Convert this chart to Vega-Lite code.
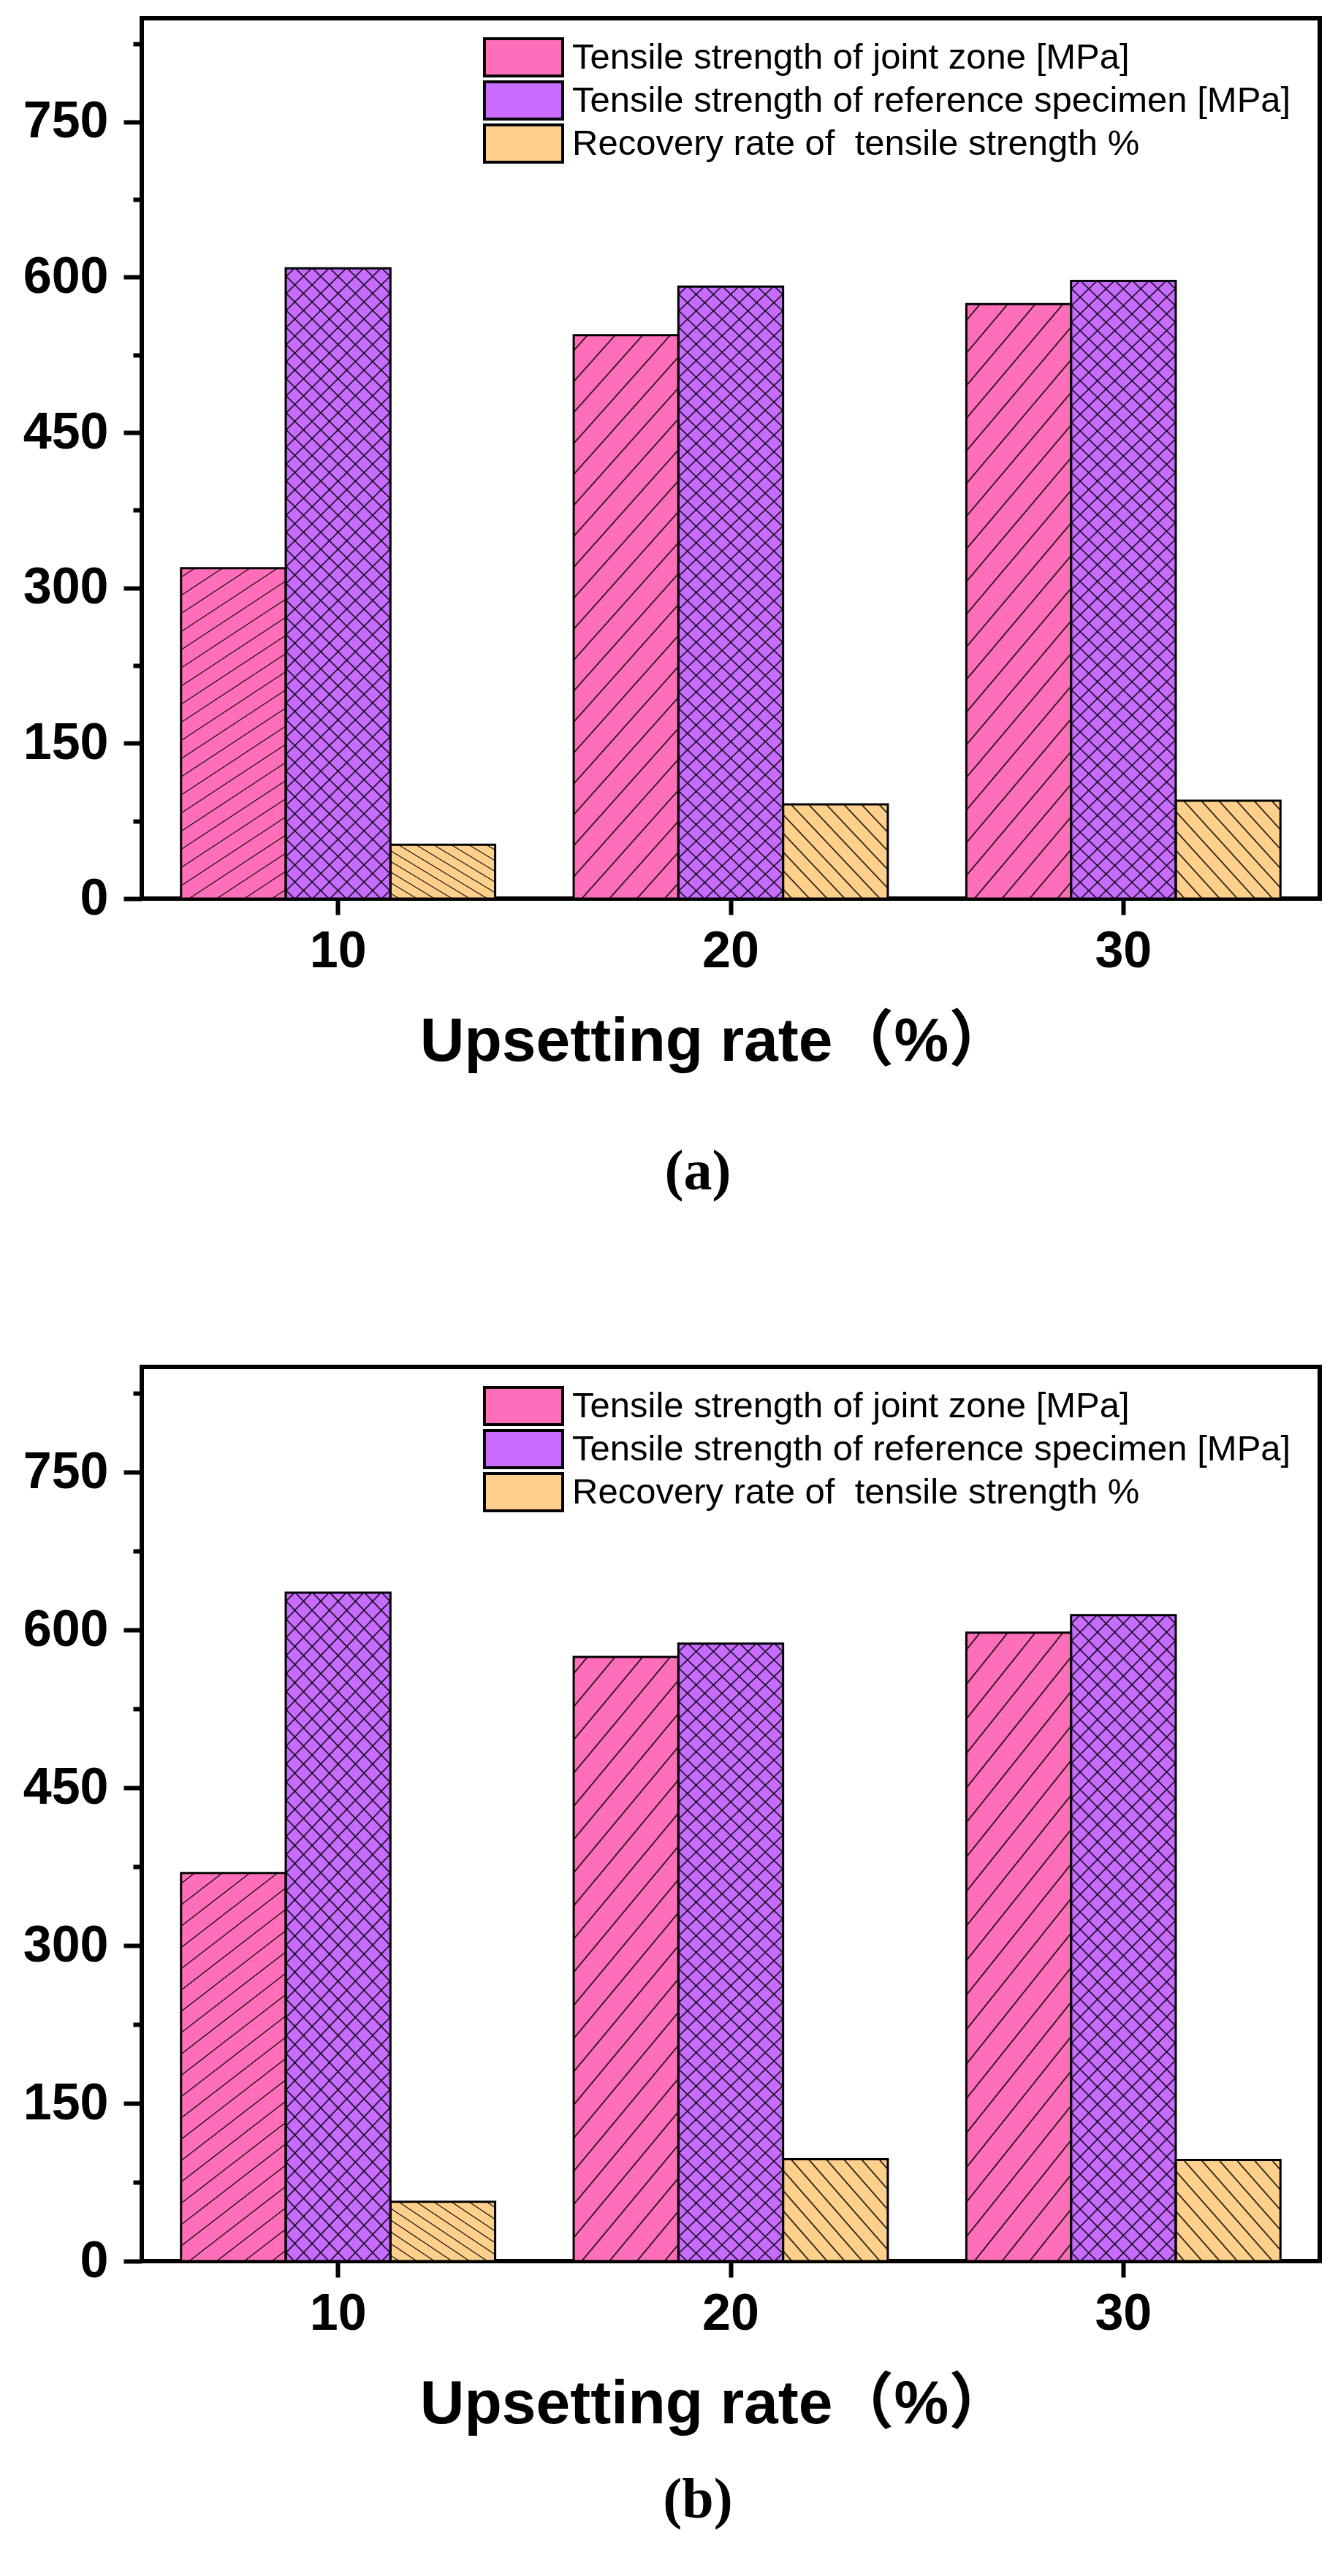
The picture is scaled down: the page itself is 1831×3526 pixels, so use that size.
{
  "$schema": "https://vega.github.io/schema/vega-lite/v6.json",
  "background": "white",
  "padding": {"left": 28, "top": 22, "right": 0, "bottom": 0},
  "autosize": {"type": "pad"},
  "spacing": 221,
  "config": {
    "view": {"stroke": "black", "strokeWidth": 6},
    "font": "Liberation Sans",
    "axis": {"labelColor": "black", "titleColor": "black", "tickColor": "black"},
    "title": {"color": "black"}
  },
  "datasets": {
    "a": [
      {"rate": "10", "series": "Tensile strength of joint zone [MPa]", "value": 319},
      {"rate": "10", "series": "Tensile strength of reference specimen [MPa]", "value": 608.6},
      {"rate": "10", "series": "Recovery rate of  tensile strength %", "value": 52},
      {"rate": "20", "series": "Tensile strength of joint zone [MPa]", "value": 544},
      {"rate": "20", "series": "Tensile strength of reference specimen [MPa]", "value": 591},
      {"rate": "20", "series": "Recovery rate of  tensile strength %", "value": 91},
      {"rate": "30", "series": "Tensile strength of joint zone [MPa]", "value": 574},
      {"rate": "30", "series": "Tensile strength of reference specimen [MPa]", "value": 596.4},
      {"rate": "30", "series": "Recovery rate of  tensile strength %", "value": 94.6}
    ],
    "b": [
      {"rate": "10", "series": "Tensile strength of joint zone [MPa]", "value": 369},
      {"rate": "10", "series": "Tensile strength of reference specimen [MPa]", "value": 635.4},
      {"rate": "10", "series": "Recovery rate of  tensile strength %", "value": 56.5},
      {"rate": "20", "series": "Tensile strength of joint zone [MPa]", "value": 574.3},
      {"rate": "20", "series": "Tensile strength of reference specimen [MPa]", "value": 587},
      {"rate": "20", "series": "Recovery rate of  tensile strength %", "value": 96.8},
      {"rate": "30", "series": "Tensile strength of joint zone [MPa]", "value": 597.4},
      {"rate": "30", "series": "Tensile strength of reference specimen [MPa]", "value": 614},
      {"rate": "30", "series": "Recovery rate of  tensile strength %", "value": 96.2}
    ]
  },
  "vconcat": [
    {
      "width": 1612,
      "height": 1205,
      "view": {"stroke": "black", "strokeWidth": 6},
      "data": {"name": "a"},
      "title": {"text": "(a)", "orient": "bottom", "frame": "group", "anchor": "middle", "dx": -45, "offset": 98, "font": "Liberation Serif", "fontSize": 78, "fontWeight": "bold", "color": "black"},
      "encoding": {
        "x": {
          "field": "rate", "type": "nominal", "sort": ["10", "20", "30"],
          "scale": {"paddingInner": 0.2, "paddingOuter": 0.1},
          "title": "Upsetting rate（%）",
          "axis": {"labelAngle": 0, "labelFontSize": 70, "labelFontWeight": "bold", "labelBaseline": "alphabetic", "labelPadding": 71, "tickSize": 22, "tickWidth": 6, "domain": false, "titleFont": "Liberation Sans, Noto Sans CJK SC", "titleFontSize": 84, "titleFontWeight": "bold", "titleX": 784, "titleY": 221, "titleBaseline": "alphabetic", "titleAnchor": "middle"}
        },
        "xOffset": {"field": "series", "type": "nominal", "sort": ["Tensile strength of joint zone [MPa]", "Tensile strength of reference specimen [MPa]", "Recovery rate of  tensile strength %"]},
        "y": {
          "field": "value", "type": "quantitative",
          "scale": {"domain": [0, 850], "nice": false, "zero": true},
          "title": null,
          "axis": {"values": [0, 75, 150, 225, 300, 375, 450, 525, 600, 675, 750, 825], "labelExpr": "datum.value % 150 === 0 ? datum.label : ''", "labelOverlap": false, "labelFontSize": 70, "labelFontWeight": "bold", "labelPadding": 21, "tickSize": {"condition": {"test": "datum.value % 150 === 0", "value": 25}, "value": 12}, "tickWidth": 6, "domain": false, "grid": false}
        }
      },
      "layer": [
        {
          "mark": {"type": "bar", "strokeWidth": 0},
          "encoding": {
            "fill": {
              "field": "series", "type": "nominal",
              "scale": {"domain": ["Tensile strength of joint zone [MPa]", "Tensile strength of reference specimen [MPa]", "Recovery rate of  tensile strength %"], "range": ["#FF6EB9", "#C86BFF", "#FFD08C"]},
              "legend": {"title": null, "orient": "none", "legendX": 498, "legendY": 29, "padding": 0, "symbolType": "M-4,-1.908H4V1.908H-4Z", "symbolSize": 715.6, "symbolStrokeColor": "black", "symbolStrokeWidth": 4, "symbolOpacity": 1, "labelFontSize": 49, "labelColor": "black", "labelOffset": 42, "labelLimit": 0, "rowPadding": -12, "labelExpr": "replace(datum.label, 'of  t', 'of \u00a0t')"}
            }
          }
        },
        {
          "mark": {"type": "bar", "strokeWidth": 0},
          "encoding": {
            "fill": {
              "condition": [
                {"test": "datum.series === 'Tensile strength of joint zone [MPa]'", "value": {"gradient": "linear", "x1": 0, "y1": 0, "x2": 0.2413, "y2": 1.158, "stops": [
                  {"offset": 0.0203, "color": "transparent"}, {"offset": 0.0227, "color": "black"}, {"offset": 0.0251, "color": "transparent"},
                  {"offset": 0.0658, "color": "transparent"}, {"offset": 0.0682, "color": "black"}, {"offset": 0.0706, "color": "transparent"},
                  {"offset": 0.1112, "color": "transparent"}, {"offset": 0.1136, "color": "black"}, {"offset": 0.1160, "color": "transparent"},
                  {"offset": 0.1567, "color": "transparent"}, {"offset": 0.1591, "color": "black"}, {"offset": 0.1615, "color": "transparent"},
                  {"offset": 0.2021, "color": "transparent"}, {"offset": 0.2045, "color": "black"}, {"offset": 0.2069, "color": "transparent"},
                  {"offset": 0.2476, "color": "transparent"}, {"offset": 0.2500, "color": "black"}, {"offset": 0.2524, "color": "transparent"},
                  {"offset": 0.2931, "color": "transparent"}, {"offset": 0.2955, "color": "black"}, {"offset": 0.2979, "color": "transparent"},
                  {"offset": 0.3385, "color": "transparent"}, {"offset": 0.3409, "color": "black"}, {"offset": 0.3433, "color": "transparent"},
                  {"offset": 0.3840, "color": "transparent"}, {"offset": 0.3864, "color": "black"}, {"offset": 0.3888, "color": "transparent"},
                  {"offset": 0.4294, "color": "transparent"}, {"offset": 0.4318, "color": "black"}, {"offset": 0.4342, "color": "transparent"},
                  {"offset": 0.4749, "color": "transparent"}, {"offset": 0.4773, "color": "black"}, {"offset": 0.4797, "color": "transparent"},
                  {"offset": 0.5203, "color": "transparent"}, {"offset": 0.5227, "color": "black"}, {"offset": 0.5251, "color": "transparent"},
                  {"offset": 0.5658, "color": "transparent"}, {"offset": 0.5682, "color": "black"}, {"offset": 0.5706, "color": "transparent"},
                  {"offset": 0.6112, "color": "transparent"}, {"offset": 0.6136, "color": "black"}, {"offset": 0.6160, "color": "transparent"},
                  {"offset": 0.6567, "color": "transparent"}, {"offset": 0.6591, "color": "black"}, {"offset": 0.6615, "color": "transparent"},
                  {"offset": 0.7021, "color": "transparent"}, {"offset": 0.7045, "color": "black"}, {"offset": 0.7069, "color": "transparent"},
                  {"offset": 0.7476, "color": "transparent"}, {"offset": 0.7500, "color": "black"}, {"offset": 0.7524, "color": "transparent"},
                  {"offset": 0.7931, "color": "transparent"}, {"offset": 0.7955, "color": "black"}, {"offset": 0.7979, "color": "transparent"},
                  {"offset": 0.8385, "color": "transparent"}, {"offset": 0.8409, "color": "black"}, {"offset": 0.8433, "color": "transparent"},
                  {"offset": 0.8840, "color": "transparent"}, {"offset": 0.8864, "color": "black"}, {"offset": 0.8888, "color": "transparent"},
                  {"offset": 0.9294, "color": "transparent"}, {"offset": 0.9318, "color": "black"}, {"offset": 0.9342, "color": "transparent"},
                  {"offset": 0.9749, "color": "transparent"}, {"offset": 0.9773, "color": "black"}, {"offset": 0.9797, "color": "transparent"}
                ]}},
                {"test": "datum.series === 'Tensile strength of reference specimen [MPa]'", "value": {"gradient": "linear", "x1": 0, "y1": 0, "x2": 0.1858, "y2": 1.1334, "stops": [
                  {"offset": 0.0096, "color": "transparent"}, {"offset": 0.0116, "color": "black"}, {"offset": 0.0136, "color": "transparent"},
                  {"offset": 0.0329, "color": "transparent"}, {"offset": 0.0349, "color": "black"}, {"offset": 0.0369, "color": "transparent"},
                  {"offset": 0.0561, "color": "transparent"}, {"offset": 0.0581, "color": "black"}, {"offset": 0.0601, "color": "transparent"},
                  {"offset": 0.0794, "color": "transparent"}, {"offset": 0.0814, "color": "black"}, {"offset": 0.0834, "color": "transparent"},
                  {"offset": 0.1027, "color": "transparent"}, {"offset": 0.1047, "color": "black"}, {"offset": 0.1067, "color": "transparent"},
                  {"offset": 0.1259, "color": "transparent"}, {"offset": 0.1279, "color": "black"}, {"offset": 0.1299, "color": "transparent"},
                  {"offset": 0.1492, "color": "transparent"}, {"offset": 0.1512, "color": "black"}, {"offset": 0.1532, "color": "transparent"},
                  {"offset": 0.1724, "color": "transparent"}, {"offset": 0.1744, "color": "black"}, {"offset": 0.1764, "color": "transparent"},
                  {"offset": 0.1957, "color": "transparent"}, {"offset": 0.1977, "color": "black"}, {"offset": 0.1997, "color": "transparent"},
                  {"offset": 0.2189, "color": "transparent"}, {"offset": 0.2209, "color": "black"}, {"offset": 0.2229, "color": "transparent"},
                  {"offset": 0.2422, "color": "transparent"}, {"offset": 0.2442, "color": "black"}, {"offset": 0.2462, "color": "transparent"},
                  {"offset": 0.2654, "color": "transparent"}, {"offset": 0.2674, "color": "black"}, {"offset": 0.2694, "color": "transparent"},
                  {"offset": 0.2887, "color": "transparent"}, {"offset": 0.2907, "color": "black"}, {"offset": 0.2927, "color": "transparent"},
                  {"offset": 0.3120, "color": "transparent"}, {"offset": 0.3140, "color": "black"}, {"offset": 0.3160, "color": "transparent"},
                  {"offset": 0.3352, "color": "transparent"}, {"offset": 0.3372, "color": "black"}, {"offset": 0.3392, "color": "transparent"},
                  {"offset": 0.3585, "color": "transparent"}, {"offset": 0.3605, "color": "black"}, {"offset": 0.3625, "color": "transparent"},
                  {"offset": 0.3817, "color": "transparent"}, {"offset": 0.3837, "color": "black"}, {"offset": 0.3857, "color": "transparent"},
                  {"offset": 0.4050, "color": "transparent"}, {"offset": 0.4070, "color": "black"}, {"offset": 0.4090, "color": "transparent"},
                  {"offset": 0.4282, "color": "transparent"}, {"offset": 0.4302, "color": "black"}, {"offset": 0.4322, "color": "transparent"},
                  {"offset": 0.4515, "color": "transparent"}, {"offset": 0.4535, "color": "black"}, {"offset": 0.4555, "color": "transparent"},
                  {"offset": 0.4747, "color": "transparent"}, {"offset": 0.4767, "color": "black"}, {"offset": 0.4787, "color": "transparent"},
                  {"offset": 0.4980, "color": "transparent"}, {"offset": 0.5000, "color": "black"}, {"offset": 0.5020, "color": "transparent"},
                  {"offset": 0.5213, "color": "transparent"}, {"offset": 0.5233, "color": "black"}, {"offset": 0.5253, "color": "transparent"},
                  {"offset": 0.5445, "color": "transparent"}, {"offset": 0.5465, "color": "black"}, {"offset": 0.5485, "color": "transparent"},
                  {"offset": 0.5678, "color": "transparent"}, {"offset": 0.5698, "color": "black"}, {"offset": 0.5718, "color": "transparent"},
                  {"offset": 0.5910, "color": "transparent"}, {"offset": 0.5930, "color": "black"}, {"offset": 0.5950, "color": "transparent"},
                  {"offset": 0.6143, "color": "transparent"}, {"offset": 0.6163, "color": "black"}, {"offset": 0.6183, "color": "transparent"},
                  {"offset": 0.6375, "color": "transparent"}, {"offset": 0.6395, "color": "black"}, {"offset": 0.6415, "color": "transparent"},
                  {"offset": 0.6608, "color": "transparent"}, {"offset": 0.6628, "color": "black"}, {"offset": 0.6648, "color": "transparent"},
                  {"offset": 0.6840, "color": "transparent"}, {"offset": 0.6860, "color": "black"}, {"offset": 0.6880, "color": "transparent"},
                  {"offset": 0.7073, "color": "transparent"}, {"offset": 0.7093, "color": "black"}, {"offset": 0.7113, "color": "transparent"},
                  {"offset": 0.7306, "color": "transparent"}, {"offset": 0.7326, "color": "black"}, {"offset": 0.7346, "color": "transparent"},
                  {"offset": 0.7538, "color": "transparent"}, {"offset": 0.7558, "color": "black"}, {"offset": 0.7578, "color": "transparent"},
                  {"offset": 0.7771, "color": "transparent"}, {"offset": 0.7791, "color": "black"}, {"offset": 0.7811, "color": "transparent"},
                  {"offset": 0.8003, "color": "transparent"}, {"offset": 0.8023, "color": "black"}, {"offset": 0.8043, "color": "transparent"},
                  {"offset": 0.8236, "color": "transparent"}, {"offset": 0.8256, "color": "black"}, {"offset": 0.8276, "color": "transparent"},
                  {"offset": 0.8468, "color": "transparent"}, {"offset": 0.8488, "color": "black"}, {"offset": 0.8508, "color": "transparent"},
                  {"offset": 0.8701, "color": "transparent"}, {"offset": 0.8721, "color": "black"}, {"offset": 0.8741, "color": "transparent"},
                  {"offset": 0.8933, "color": "transparent"}, {"offset": 0.8953, "color": "black"}, {"offset": 0.8973, "color": "transparent"},
                  {"offset": 0.9166, "color": "transparent"}, {"offset": 0.9186, "color": "black"}, {"offset": 0.9206, "color": "transparent"},
                  {"offset": 0.9399, "color": "transparent"}, {"offset": 0.9419, "color": "black"}, {"offset": 0.9439, "color": "transparent"},
                  {"offset": 0.9631, "color": "transparent"}, {"offset": 0.9651, "color": "black"}, {"offset": 0.9671, "color": "transparent"},
                  {"offset": 0.9864, "color": "transparent"}, {"offset": 0.9884, "color": "black"}, {"offset": 0.9904, "color": "transparent"}
                ]}}
              ],
              "value": {"gradient": "linear", "x1": 0, "y1": 1, "x2": 1.074, "y2": 0.087, "stops": [
                {"offset": 0.0379, "color": "transparent"}, {"offset": 0.0455, "color": "black"}, {"offset": 0.0531, "color": "transparent"},
                {"offset": 0.1288, "color": "transparent"}, {"offset": 0.1364, "color": "black"}, {"offset": 0.1440, "color": "transparent"},
                {"offset": 0.2197, "color": "transparent"}, {"offset": 0.2273, "color": "black"}, {"offset": 0.2349, "color": "transparent"},
                {"offset": 0.3106, "color": "transparent"}, {"offset": 0.3182, "color": "black"}, {"offset": 0.3258, "color": "transparent"},
                {"offset": 0.4015, "color": "transparent"}, {"offset": 0.4091, "color": "black"}, {"offset": 0.4167, "color": "transparent"},
                {"offset": 0.4924, "color": "transparent"}, {"offset": 0.5000, "color": "black"}, {"offset": 0.5076, "color": "transparent"},
                {"offset": 0.5833, "color": "transparent"}, {"offset": 0.5909, "color": "black"}, {"offset": 0.5985, "color": "transparent"},
                {"offset": 0.6742, "color": "transparent"}, {"offset": 0.6818, "color": "black"}, {"offset": 0.6894, "color": "transparent"},
                {"offset": 0.7651, "color": "transparent"}, {"offset": 0.7727, "color": "black"}, {"offset": 0.7803, "color": "transparent"},
                {"offset": 0.8560, "color": "transparent"}, {"offset": 0.8636, "color": "black"}, {"offset": 0.8712, "color": "transparent"},
                {"offset": 0.9469, "color": "transparent"}, {"offset": 0.9545, "color": "black"}, {"offset": 0.9621, "color": "transparent"}
              ]}
            }
          }
        },
        {
          "transform": [{"filter": "datum.series === 'Tensile strength of reference specimen [MPa]'"}],
          "mark": {"type": "bar", "strokeWidth": 0},
          "encoding": {
            "fill": {"value": {"gradient": "linear", "x1": 0, "y1": 1, "x2": 0.1858, "y2": -0.1334, "stops": [
              {"offset": 0.0096, "color": "transparent"}, {"offset": 0.0116, "color": "black"}, {"offset": 0.0136, "color": "transparent"},
              {"offset": 0.0329, "color": "transparent"}, {"offset": 0.0349, "color": "black"}, {"offset": 0.0369, "color": "transparent"},
              {"offset": 0.0561, "color": "transparent"}, {"offset": 0.0581, "color": "black"}, {"offset": 0.0601, "color": "transparent"},
              {"offset": 0.0794, "color": "transparent"}, {"offset": 0.0814, "color": "black"}, {"offset": 0.0834, "color": "transparent"},
              {"offset": 0.1027, "color": "transparent"}, {"offset": 0.1047, "color": "black"}, {"offset": 0.1067, "color": "transparent"},
              {"offset": 0.1259, "color": "transparent"}, {"offset": 0.1279, "color": "black"}, {"offset": 0.1299, "color": "transparent"},
              {"offset": 0.1492, "color": "transparent"}, {"offset": 0.1512, "color": "black"}, {"offset": 0.1532, "color": "transparent"},
              {"offset": 0.1724, "color": "transparent"}, {"offset": 0.1744, "color": "black"}, {"offset": 0.1764, "color": "transparent"},
              {"offset": 0.1957, "color": "transparent"}, {"offset": 0.1977, "color": "black"}, {"offset": 0.1997, "color": "transparent"},
              {"offset": 0.2189, "color": "transparent"}, {"offset": 0.2209, "color": "black"}, {"offset": 0.2229, "color": "transparent"},
              {"offset": 0.2422, "color": "transparent"}, {"offset": 0.2442, "color": "black"}, {"offset": 0.2462, "color": "transparent"},
              {"offset": 0.2654, "color": "transparent"}, {"offset": 0.2674, "color": "black"}, {"offset": 0.2694, "color": "transparent"},
              {"offset": 0.2887, "color": "transparent"}, {"offset": 0.2907, "color": "black"}, {"offset": 0.2927, "color": "transparent"},
              {"offset": 0.3120, "color": "transparent"}, {"offset": 0.3140, "color": "black"}, {"offset": 0.3160, "color": "transparent"},
              {"offset": 0.3352, "color": "transparent"}, {"offset": 0.3372, "color": "black"}, {"offset": 0.3392, "color": "transparent"},
              {"offset": 0.3585, "color": "transparent"}, {"offset": 0.3605, "color": "black"}, {"offset": 0.3625, "color": "transparent"},
              {"offset": 0.3817, "color": "transparent"}, {"offset": 0.3837, "color": "black"}, {"offset": 0.3857, "color": "transparent"},
              {"offset": 0.4050, "color": "transparent"}, {"offset": 0.4070, "color": "black"}, {"offset": 0.4090, "color": "transparent"},
              {"offset": 0.4282, "color": "transparent"}, {"offset": 0.4302, "color": "black"}, {"offset": 0.4322, "color": "transparent"},
              {"offset": 0.4515, "color": "transparent"}, {"offset": 0.4535, "color": "black"}, {"offset": 0.4555, "color": "transparent"},
              {"offset": 0.4747, "color": "transparent"}, {"offset": 0.4767, "color": "black"}, {"offset": 0.4787, "color": "transparent"},
              {"offset": 0.4980, "color": "transparent"}, {"offset": 0.5000, "color": "black"}, {"offset": 0.5020, "color": "transparent"},
              {"offset": 0.5213, "color": "transparent"}, {"offset": 0.5233, "color": "black"}, {"offset": 0.5253, "color": "transparent"},
              {"offset": 0.5445, "color": "transparent"}, {"offset": 0.5465, "color": "black"}, {"offset": 0.5485, "color": "transparent"},
              {"offset": 0.5678, "color": "transparent"}, {"offset": 0.5698, "color": "black"}, {"offset": 0.5718, "color": "transparent"},
              {"offset": 0.5910, "color": "transparent"}, {"offset": 0.5930, "color": "black"}, {"offset": 0.5950, "color": "transparent"},
              {"offset": 0.6143, "color": "transparent"}, {"offset": 0.6163, "color": "black"}, {"offset": 0.6183, "color": "transparent"},
              {"offset": 0.6375, "color": "transparent"}, {"offset": 0.6395, "color": "black"}, {"offset": 0.6415, "color": "transparent"},
              {"offset": 0.6608, "color": "transparent"}, {"offset": 0.6628, "color": "black"}, {"offset": 0.6648, "color": "transparent"},
              {"offset": 0.6840, "color": "transparent"}, {"offset": 0.6860, "color": "black"}, {"offset": 0.6880, "color": "transparent"},
              {"offset": 0.7073, "color": "transparent"}, {"offset": 0.7093, "color": "black"}, {"offset": 0.7113, "color": "transparent"},
              {"offset": 0.7306, "color": "transparent"}, {"offset": 0.7326, "color": "black"}, {"offset": 0.7346, "color": "transparent"},
              {"offset": 0.7538, "color": "transparent"}, {"offset": 0.7558, "color": "black"}, {"offset": 0.7578, "color": "transparent"},
              {"offset": 0.7771, "color": "transparent"}, {"offset": 0.7791, "color": "black"}, {"offset": 0.7811, "color": "transparent"},
              {"offset": 0.8003, "color": "transparent"}, {"offset": 0.8023, "color": "black"}, {"offset": 0.8043, "color": "transparent"},
              {"offset": 0.8236, "color": "transparent"}, {"offset": 0.8256, "color": "black"}, {"offset": 0.8276, "color": "transparent"},
              {"offset": 0.8468, "color": "transparent"}, {"offset": 0.8488, "color": "black"}, {"offset": 0.8508, "color": "transparent"},
              {"offset": 0.8701, "color": "transparent"}, {"offset": 0.8721, "color": "black"}, {"offset": 0.8741, "color": "transparent"},
              {"offset": 0.8933, "color": "transparent"}, {"offset": 0.8953, "color": "black"}, {"offset": 0.8973, "color": "transparent"},
              {"offset": 0.9166, "color": "transparent"}, {"offset": 0.9186, "color": "black"}, {"offset": 0.9206, "color": "transparent"},
              {"offset": 0.9399, "color": "transparent"}, {"offset": 0.9419, "color": "black"}, {"offset": 0.9439, "color": "transparent"},
              {"offset": 0.9631, "color": "transparent"}, {"offset": 0.9651, "color": "black"}, {"offset": 0.9671, "color": "transparent"},
              {"offset": 0.9864, "color": "transparent"}, {"offset": 0.9884, "color": "black"}, {"offset": 0.9904, "color": "transparent"}
            ]}}
          }
        },
        {
          "mark": {"type": "bar", "fill": "transparent", "stroke": "black", "strokeWidth": 3}
        }
      ]
    },
    {
      "width": 1612,
      "height": 1224,
      "view": {"stroke": "black", "strokeWidth": 6},
      "data": {"name": "b"},
      "title": {"text": "(b)", "orient": "bottom", "frame": "group", "anchor": "middle", "dx": -45, "offset": 51, "font": "Liberation Serif", "fontSize": 78, "fontWeight": "bold", "color": "black"},
      "encoding": {
        "x": {
          "field": "rate", "type": "nominal", "sort": ["10", "20", "30"],
          "scale": {"paddingInner": 0.2, "paddingOuter": 0.1},
          "title": "Upsetting rate（%）",
          "axis": {"labelAngle": 0, "labelFontSize": 70, "labelFontWeight": "bold", "labelBaseline": "alphabetic", "labelPadding": 71, "tickSize": 22, "tickWidth": 6, "domain": false, "titleFont": "Liberation Sans, Noto Sans CJK SC", "titleFontSize": 84, "titleFontWeight": "bold", "titleX": 784, "titleY": 221, "titleBaseline": "alphabetic", "titleAnchor": "middle"}
        },
        "xOffset": {"field": "series", "type": "nominal", "sort": ["Tensile strength of joint zone [MPa]", "Tensile strength of reference specimen [MPa]", "Recovery rate of  tensile strength %"]},
        "y": {
          "field": "value", "type": "quantitative",
          "scale": {"domain": [0, 850], "nice": false, "zero": true},
          "title": null,
          "axis": {"values": [0, 75, 150, 225, 300, 375, 450, 525, 600, 675, 750, 825], "labelExpr": "datum.value % 150 === 0 ? datum.label : ''", "labelOverlap": false, "labelFontSize": 70, "labelFontWeight": "bold", "labelPadding": 21, "tickSize": {"condition": {"test": "datum.value % 150 === 0", "value": 25}, "value": 12}, "tickWidth": 6, "domain": false, "grid": false}
        }
      },
      "layer": [
        {
          "mark": {"type": "bar", "strokeWidth": 0},
          "encoding": {
            "fill": {
              "field": "series", "type": "nominal",
              "scale": {"domain": ["Tensile strength of joint zone [MPa]", "Tensile strength of reference specimen [MPa]", "Recovery rate of  tensile strength %"], "range": ["#FF6EB9", "#C86BFF", "#FFD08C"]},
              "legend": {"title": null, "orient": "none", "legendX": 498, "legendY": 29, "padding": 0, "symbolType": "M-4,-1.908H4V1.908H-4Z", "symbolSize": 715.6, "symbolStrokeColor": "black", "symbolStrokeWidth": 4, "symbolOpacity": 1, "labelFontSize": 49, "labelColor": "black", "labelOffset": 42, "labelLimit": 0, "rowPadding": -12, "labelExpr": "replace(datum.label, 'of  t', 'of \u00a0t')"}
            }
          }
        },
        {
          "mark": {"type": "bar", "strokeWidth": 0},
          "encoding": {
            "fill": {
              "condition": [
                {"test": "datum.series === 'Tensile strength of joint zone [MPa]'", "value": {"gradient": "linear", "x1": 0, "y1": 0, "x2": 0.2413, "y2": 1.158, "stops": [
                  {"offset": 0.0203, "color": "transparent"}, {"offset": 0.0227, "color": "black"}, {"offset": 0.0251, "color": "transparent"},
                  {"offset": 0.0658, "color": "transparent"}, {"offset": 0.0682, "color": "black"}, {"offset": 0.0706, "color": "transparent"},
                  {"offset": 0.1112, "color": "transparent"}, {"offset": 0.1136, "color": "black"}, {"offset": 0.1160, "color": "transparent"},
                  {"offset": 0.1567, "color": "transparent"}, {"offset": 0.1591, "color": "black"}, {"offset": 0.1615, "color": "transparent"},
                  {"offset": 0.2021, "color": "transparent"}, {"offset": 0.2045, "color": "black"}, {"offset": 0.2069, "color": "transparent"},
                  {"offset": 0.2476, "color": "transparent"}, {"offset": 0.2500, "color": "black"}, {"offset": 0.2524, "color": "transparent"},
                  {"offset": 0.2931, "color": "transparent"}, {"offset": 0.2955, "color": "black"}, {"offset": 0.2979, "color": "transparent"},
                  {"offset": 0.3385, "color": "transparent"}, {"offset": 0.3409, "color": "black"}, {"offset": 0.3433, "color": "transparent"},
                  {"offset": 0.3840, "color": "transparent"}, {"offset": 0.3864, "color": "black"}, {"offset": 0.3888, "color": "transparent"},
                  {"offset": 0.4294, "color": "transparent"}, {"offset": 0.4318, "color": "black"}, {"offset": 0.4342, "color": "transparent"},
                  {"offset": 0.4749, "color": "transparent"}, {"offset": 0.4773, "color": "black"}, {"offset": 0.4797, "color": "transparent"},
                  {"offset": 0.5203, "color": "transparent"}, {"offset": 0.5227, "color": "black"}, {"offset": 0.5251, "color": "transparent"},
                  {"offset": 0.5658, "color": "transparent"}, {"offset": 0.5682, "color": "black"}, {"offset": 0.5706, "color": "transparent"},
                  {"offset": 0.6112, "color": "transparent"}, {"offset": 0.6136, "color": "black"}, {"offset": 0.6160, "color": "transparent"},
                  {"offset": 0.6567, "color": "transparent"}, {"offset": 0.6591, "color": "black"}, {"offset": 0.6615, "color": "transparent"},
                  {"offset": 0.7021, "color": "transparent"}, {"offset": 0.7045, "color": "black"}, {"offset": 0.7069, "color": "transparent"},
                  {"offset": 0.7476, "color": "transparent"}, {"offset": 0.7500, "color": "black"}, {"offset": 0.7524, "color": "transparent"},
                  {"offset": 0.7931, "color": "transparent"}, {"offset": 0.7955, "color": "black"}, {"offset": 0.7979, "color": "transparent"},
                  {"offset": 0.8385, "color": "transparent"}, {"offset": 0.8409, "color": "black"}, {"offset": 0.8433, "color": "transparent"},
                  {"offset": 0.8840, "color": "transparent"}, {"offset": 0.8864, "color": "black"}, {"offset": 0.8888, "color": "transparent"},
                  {"offset": 0.9294, "color": "transparent"}, {"offset": 0.9318, "color": "black"}, {"offset": 0.9342, "color": "transparent"},
                  {"offset": 0.9749, "color": "transparent"}, {"offset": 0.9773, "color": "black"}, {"offset": 0.9797, "color": "transparent"}
                ]}},
                {"test": "datum.series === 'Tensile strength of reference specimen [MPa]'", "value": {"gradient": "linear", "x1": 0, "y1": 0, "x2": 0.1858, "y2": 1.1334, "stops": [
                  {"offset": 0.0096, "color": "transparent"}, {"offset": 0.0116, "color": "black"}, {"offset": 0.0136, "color": "transparent"},
                  {"offset": 0.0329, "color": "transparent"}, {"offset": 0.0349, "color": "black"}, {"offset": 0.0369, "color": "transparent"},
                  {"offset": 0.0561, "color": "transparent"}, {"offset": 0.0581, "color": "black"}, {"offset": 0.0601, "color": "transparent"},
                  {"offset": 0.0794, "color": "transparent"}, {"offset": 0.0814, "color": "black"}, {"offset": 0.0834, "color": "transparent"},
                  {"offset": 0.1027, "color": "transparent"}, {"offset": 0.1047, "color": "black"}, {"offset": 0.1067, "color": "transparent"},
                  {"offset": 0.1259, "color": "transparent"}, {"offset": 0.1279, "color": "black"}, {"offset": 0.1299, "color": "transparent"},
                  {"offset": 0.1492, "color": "transparent"}, {"offset": 0.1512, "color": "black"}, {"offset": 0.1532, "color": "transparent"},
                  {"offset": 0.1724, "color": "transparent"}, {"offset": 0.1744, "color": "black"}, {"offset": 0.1764, "color": "transparent"},
                  {"offset": 0.1957, "color": "transparent"}, {"offset": 0.1977, "color": "black"}, {"offset": 0.1997, "color": "transparent"},
                  {"offset": 0.2189, "color": "transparent"}, {"offset": 0.2209, "color": "black"}, {"offset": 0.2229, "color": "transparent"},
                  {"offset": 0.2422, "color": "transparent"}, {"offset": 0.2442, "color": "black"}, {"offset": 0.2462, "color": "transparent"},
                  {"offset": 0.2654, "color": "transparent"}, {"offset": 0.2674, "color": "black"}, {"offset": 0.2694, "color": "transparent"},
                  {"offset": 0.2887, "color": "transparent"}, {"offset": 0.2907, "color": "black"}, {"offset": 0.2927, "color": "transparent"},
                  {"offset": 0.3120, "color": "transparent"}, {"offset": 0.3140, "color": "black"}, {"offset": 0.3160, "color": "transparent"},
                  {"offset": 0.3352, "color": "transparent"}, {"offset": 0.3372, "color": "black"}, {"offset": 0.3392, "color": "transparent"},
                  {"offset": 0.3585, "color": "transparent"}, {"offset": 0.3605, "color": "black"}, {"offset": 0.3625, "color": "transparent"},
                  {"offset": 0.3817, "color": "transparent"}, {"offset": 0.3837, "color": "black"}, {"offset": 0.3857, "color": "transparent"},
                  {"offset": 0.4050, "color": "transparent"}, {"offset": 0.4070, "color": "black"}, {"offset": 0.4090, "color": "transparent"},
                  {"offset": 0.4282, "color": "transparent"}, {"offset": 0.4302, "color": "black"}, {"offset": 0.4322, "color": "transparent"},
                  {"offset": 0.4515, "color": "transparent"}, {"offset": 0.4535, "color": "black"}, {"offset": 0.4555, "color": "transparent"},
                  {"offset": 0.4747, "color": "transparent"}, {"offset": 0.4767, "color": "black"}, {"offset": 0.4787, "color": "transparent"},
                  {"offset": 0.4980, "color": "transparent"}, {"offset": 0.5000, "color": "black"}, {"offset": 0.5020, "color": "transparent"},
                  {"offset": 0.5213, "color": "transparent"}, {"offset": 0.5233, "color": "black"}, {"offset": 0.5253, "color": "transparent"},
                  {"offset": 0.5445, "color": "transparent"}, {"offset": 0.5465, "color": "black"}, {"offset": 0.5485, "color": "transparent"},
                  {"offset": 0.5678, "color": "transparent"}, {"offset": 0.5698, "color": "black"}, {"offset": 0.5718, "color": "transparent"},
                  {"offset": 0.5910, "color": "transparent"}, {"offset": 0.5930, "color": "black"}, {"offset": 0.5950, "color": "transparent"},
                  {"offset": 0.6143, "color": "transparent"}, {"offset": 0.6163, "color": "black"}, {"offset": 0.6183, "color": "transparent"},
                  {"offset": 0.6375, "color": "transparent"}, {"offset": 0.6395, "color": "black"}, {"offset": 0.6415, "color": "transparent"},
                  {"offset": 0.6608, "color": "transparent"}, {"offset": 0.6628, "color": "black"}, {"offset": 0.6648, "color": "transparent"},
                  {"offset": 0.6840, "color": "transparent"}, {"offset": 0.6860, "color": "black"}, {"offset": 0.6880, "color": "transparent"},
                  {"offset": 0.7073, "color": "transparent"}, {"offset": 0.7093, "color": "black"}, {"offset": 0.7113, "color": "transparent"},
                  {"offset": 0.7306, "color": "transparent"}, {"offset": 0.7326, "color": "black"}, {"offset": 0.7346, "color": "transparent"},
                  {"offset": 0.7538, "color": "transparent"}, {"offset": 0.7558, "color": "black"}, {"offset": 0.7578, "color": "transparent"},
                  {"offset": 0.7771, "color": "transparent"}, {"offset": 0.7791, "color": "black"}, {"offset": 0.7811, "color": "transparent"},
                  {"offset": 0.8003, "color": "transparent"}, {"offset": 0.8023, "color": "black"}, {"offset": 0.8043, "color": "transparent"},
                  {"offset": 0.8236, "color": "transparent"}, {"offset": 0.8256, "color": "black"}, {"offset": 0.8276, "color": "transparent"},
                  {"offset": 0.8468, "color": "transparent"}, {"offset": 0.8488, "color": "black"}, {"offset": 0.8508, "color": "transparent"},
                  {"offset": 0.8701, "color": "transparent"}, {"offset": 0.8721, "color": "black"}, {"offset": 0.8741, "color": "transparent"},
                  {"offset": 0.8933, "color": "transparent"}, {"offset": 0.8953, "color": "black"}, {"offset": 0.8973, "color": "transparent"},
                  {"offset": 0.9166, "color": "transparent"}, {"offset": 0.9186, "color": "black"}, {"offset": 0.9206, "color": "transparent"},
                  {"offset": 0.9399, "color": "transparent"}, {"offset": 0.9419, "color": "black"}, {"offset": 0.9439, "color": "transparent"},
                  {"offset": 0.9631, "color": "transparent"}, {"offset": 0.9651, "color": "black"}, {"offset": 0.9671, "color": "transparent"},
                  {"offset": 0.9864, "color": "transparent"}, {"offset": 0.9884, "color": "black"}, {"offset": 0.9904, "color": "transparent"}
                ]}}
              ],
              "value": {"gradient": "linear", "x1": 0, "y1": 1, "x2": 1.074, "y2": 0.087, "stops": [
                {"offset": 0.0379, "color": "transparent"}, {"offset": 0.0455, "color": "black"}, {"offset": 0.0531, "color": "transparent"},
                {"offset": 0.1288, "color": "transparent"}, {"offset": 0.1364, "color": "black"}, {"offset": 0.1440, "color": "transparent"},
                {"offset": 0.2197, "color": "transparent"}, {"offset": 0.2273, "color": "black"}, {"offset": 0.2349, "color": "transparent"},
                {"offset": 0.3106, "color": "transparent"}, {"offset": 0.3182, "color": "black"}, {"offset": 0.3258, "color": "transparent"},
                {"offset": 0.4015, "color": "transparent"}, {"offset": 0.4091, "color": "black"}, {"offset": 0.4167, "color": "transparent"},
                {"offset": 0.4924, "color": "transparent"}, {"offset": 0.5000, "color": "black"}, {"offset": 0.5076, "color": "transparent"},
                {"offset": 0.5833, "color": "transparent"}, {"offset": 0.5909, "color": "black"}, {"offset": 0.5985, "color": "transparent"},
                {"offset": 0.6742, "color": "transparent"}, {"offset": 0.6818, "color": "black"}, {"offset": 0.6894, "color": "transparent"},
                {"offset": 0.7651, "color": "transparent"}, {"offset": 0.7727, "color": "black"}, {"offset": 0.7803, "color": "transparent"},
                {"offset": 0.8560, "color": "transparent"}, {"offset": 0.8636, "color": "black"}, {"offset": 0.8712, "color": "transparent"},
                {"offset": 0.9469, "color": "transparent"}, {"offset": 0.9545, "color": "black"}, {"offset": 0.9621, "color": "transparent"}
              ]}
            }
          }
        },
        {
          "transform": [{"filter": "datum.series === 'Tensile strength of reference specimen [MPa]'"}],
          "mark": {"type": "bar", "strokeWidth": 0},
          "encoding": {
            "fill": {"value": {"gradient": "linear", "x1": 0, "y1": 1, "x2": 0.1858, "y2": -0.1334, "stops": [
              {"offset": 0.0096, "color": "transparent"}, {"offset": 0.0116, "color": "black"}, {"offset": 0.0136, "color": "transparent"},
              {"offset": 0.0329, "color": "transparent"}, {"offset": 0.0349, "color": "black"}, {"offset": 0.0369, "color": "transparent"},
              {"offset": 0.0561, "color": "transparent"}, {"offset": 0.0581, "color": "black"}, {"offset": 0.0601, "color": "transparent"},
              {"offset": 0.0794, "color": "transparent"}, {"offset": 0.0814, "color": "black"}, {"offset": 0.0834, "color": "transparent"},
              {"offset": 0.1027, "color": "transparent"}, {"offset": 0.1047, "color": "black"}, {"offset": 0.1067, "color": "transparent"},
              {"offset": 0.1259, "color": "transparent"}, {"offset": 0.1279, "color": "black"}, {"offset": 0.1299, "color": "transparent"},
              {"offset": 0.1492, "color": "transparent"}, {"offset": 0.1512, "color": "black"}, {"offset": 0.1532, "color": "transparent"},
              {"offset": 0.1724, "color": "transparent"}, {"offset": 0.1744, "color": "black"}, {"offset": 0.1764, "color": "transparent"},
              {"offset": 0.1957, "color": "transparent"}, {"offset": 0.1977, "color": "black"}, {"offset": 0.1997, "color": "transparent"},
              {"offset": 0.2189, "color": "transparent"}, {"offset": 0.2209, "color": "black"}, {"offset": 0.2229, "color": "transparent"},
              {"offset": 0.2422, "color": "transparent"}, {"offset": 0.2442, "color": "black"}, {"offset": 0.2462, "color": "transparent"},
              {"offset": 0.2654, "color": "transparent"}, {"offset": 0.2674, "color": "black"}, {"offset": 0.2694, "color": "transparent"},
              {"offset": 0.2887, "color": "transparent"}, {"offset": 0.2907, "color": "black"}, {"offset": 0.2927, "color": "transparent"},
              {"offset": 0.3120, "color": "transparent"}, {"offset": 0.3140, "color": "black"}, {"offset": 0.3160, "color": "transparent"},
              {"offset": 0.3352, "color": "transparent"}, {"offset": 0.3372, "color": "black"}, {"offset": 0.3392, "color": "transparent"},
              {"offset": 0.3585, "color": "transparent"}, {"offset": 0.3605, "color": "black"}, {"offset": 0.3625, "color": "transparent"},
              {"offset": 0.3817, "color": "transparent"}, {"offset": 0.3837, "color": "black"}, {"offset": 0.3857, "color": "transparent"},
              {"offset": 0.4050, "color": "transparent"}, {"offset": 0.4070, "color": "black"}, {"offset": 0.4090, "color": "transparent"},
              {"offset": 0.4282, "color": "transparent"}, {"offset": 0.4302, "color": "black"}, {"offset": 0.4322, "color": "transparent"},
              {"offset": 0.4515, "color": "transparent"}, {"offset": 0.4535, "color": "black"}, {"offset": 0.4555, "color": "transparent"},
              {"offset": 0.4747, "color": "transparent"}, {"offset": 0.4767, "color": "black"}, {"offset": 0.4787, "color": "transparent"},
              {"offset": 0.4980, "color": "transparent"}, {"offset": 0.5000, "color": "black"}, {"offset": 0.5020, "color": "transparent"},
              {"offset": 0.5213, "color": "transparent"}, {"offset": 0.5233, "color": "black"}, {"offset": 0.5253, "color": "transparent"},
              {"offset": 0.5445, "color": "transparent"}, {"offset": 0.5465, "color": "black"}, {"offset": 0.5485, "color": "transparent"},
              {"offset": 0.5678, "color": "transparent"}, {"offset": 0.5698, "color": "black"}, {"offset": 0.5718, "color": "transparent"},
              {"offset": 0.5910, "color": "transparent"}, {"offset": 0.5930, "color": "black"}, {"offset": 0.5950, "color": "transparent"},
              {"offset": 0.6143, "color": "transparent"}, {"offset": 0.6163, "color": "black"}, {"offset": 0.6183, "color": "transparent"},
              {"offset": 0.6375, "color": "transparent"}, {"offset": 0.6395, "color": "black"}, {"offset": 0.6415, "color": "transparent"},
              {"offset": 0.6608, "color": "transparent"}, {"offset": 0.6628, "color": "black"}, {"offset": 0.6648, "color": "transparent"},
              {"offset": 0.6840, "color": "transparent"}, {"offset": 0.6860, "color": "black"}, {"offset": 0.6880, "color": "transparent"},
              {"offset": 0.7073, "color": "transparent"}, {"offset": 0.7093, "color": "black"}, {"offset": 0.7113, "color": "transparent"},
              {"offset": 0.7306, "color": "transparent"}, {"offset": 0.7326, "color": "black"}, {"offset": 0.7346, "color": "transparent"},
              {"offset": 0.7538, "color": "transparent"}, {"offset": 0.7558, "color": "black"}, {"offset": 0.7578, "color": "transparent"},
              {"offset": 0.7771, "color": "transparent"}, {"offset": 0.7791, "color": "black"}, {"offset": 0.7811, "color": "transparent"},
              {"offset": 0.8003, "color": "transparent"}, {"offset": 0.8023, "color": "black"}, {"offset": 0.8043, "color": "transparent"},
              {"offset": 0.8236, "color": "transparent"}, {"offset": 0.8256, "color": "black"}, {"offset": 0.8276, "color": "transparent"},
              {"offset": 0.8468, "color": "transparent"}, {"offset": 0.8488, "color": "black"}, {"offset": 0.8508, "color": "transparent"},
              {"offset": 0.8701, "color": "transparent"}, {"offset": 0.8721, "color": "black"}, {"offset": 0.8741, "color": "transparent"},
              {"offset": 0.8933, "color": "transparent"}, {"offset": 0.8953, "color": "black"}, {"offset": 0.8973, "color": "transparent"},
              {"offset": 0.9166, "color": "transparent"}, {"offset": 0.9186, "color": "black"}, {"offset": 0.9206, "color": "transparent"},
              {"offset": 0.9399, "color": "transparent"}, {"offset": 0.9419, "color": "black"}, {"offset": 0.9439, "color": "transparent"},
              {"offset": 0.9631, "color": "transparent"}, {"offset": 0.9651, "color": "black"}, {"offset": 0.9671, "color": "transparent"},
              {"offset": 0.9864, "color": "transparent"}, {"offset": 0.9884, "color": "black"}, {"offset": 0.9904, "color": "transparent"}
            ]}}
          }
        },
        {
          "mark": {"type": "bar", "fill": "transparent", "stroke": "black", "strokeWidth": 3}
        }
      ]
    }
  ],
  "resolve": {"scale": {"fill": "independent"}, "legend": {"fill": "independent"}}
}
